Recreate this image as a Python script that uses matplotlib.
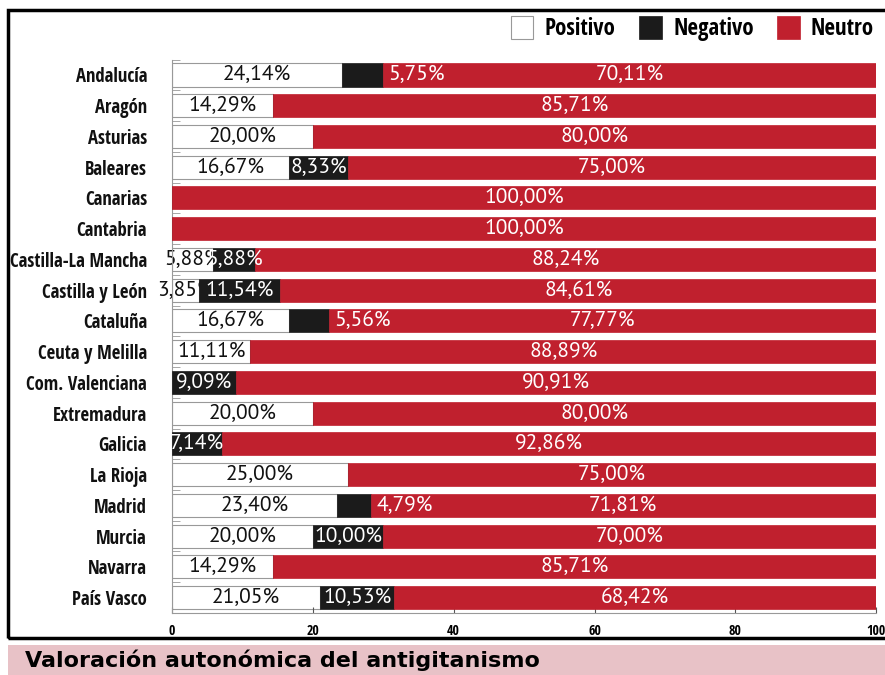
import matplotlib.pyplot as plt
import matplotlib.patches as patches
from matplotlib import font_manager

regiones = ['Andalucía', 'Aragón', 'Asturias', 'Baleares', 'Canarias', 'Cantabria',
            'Castilla-La Mancha', 'Castilla y León', 'Cataluña', 'Ceuta y Melilla',
            'Com. Valenciana', 'Extremadura', 'Galicia', 'La Rioja', 'Madrid',
            'Murcia', 'Navarra', 'País Vasco']
positivo = [24.14, 14.29, 20.00, 16.67, 0, 0, 5.88, 3.85, 16.67, 11.11,
            0, 20.00, 0, 25.00, 23.40, 20.00, 14.29, 21.05]
negativo = [5.75, 0, 0, 8.33, 0, 0, 5.88, 11.54, 5.56, 0,
            9.09, 0, 7.14, 0, 4.79, 10.00, 0, 10.53]
neutro = [70.11, 85.71, 80.00, 75.00, 100.00, 100.00, 88.24, 84.61, 77.77, 88.89,
          90.91, 80.00, 92.86, 75.00, 71.81, 70.00, 85.71, 68.42]
ticks = [0, 20, 40, 60, 80, 100]

installed = {f.name for f in font_manager.fontManager.ttflist}

def pick(*cands):
    for c in cands:
        if c in installed:
            return c
    return 'DejaVu Sans'

narrow = pick('Open Sans Condensed', 'Roboto Condensed', 'Fira Sans Extra Condensed', 'Liberation Sans Narrow')
plain = pick('PT Sans', 'Open Sans', 'Lato')
ysize = 13.5 if narrow != 'DejaVu Sans' else 10.5
fs = 15.5 if plain == 'PT Sans' else 13

rojo = '#c0202e'
negro = '#1b1b1b'

def fmt(v):
    return f'{v:.2f}%'.replace('.', ',')

fig = plt.figure(figsize=(8.85, 6.75), dpi=100)
ax = fig.add_axes([0.1944, 0.0919, 0.7956, 0.8198])

y = list(range(len(regiones)))
h = 0.75
neg_left = positivo
neu_left = [p + n for p, n in zip(positivo, negativo)]

ax.barh(y, positivo, height=h, color='white', edgecolor='#999999', linewidth=0.8, zorder=1, label='Positivo')
ax.barh(y, negativo, left=neg_left, height=h, color=negro, edgecolor=negro, linewidth=0.5, zorder=3, label='Negativo')
ax.barh(y, neutro, left=neu_left, height=h, color=rojo, edgecolor=rojo, linewidth=0.5, zorder=3, label='Neutro')

for i in y:
    if positivo[i] > 0:
        ax.text(positivo[i] / 2, i, fmt(positivo[i]), ha='center', va='center',
                fontsize=fs, family=plain, color='#111111', zorder=2)
    if negativo[i] > 0:
        if negativo[i] < 5.85:
            ax.text(neu_left[i] + 0.8, i, fmt(negativo[i]), ha='left', va='center',
                    fontsize=fs, family=plain, color='white', zorder=4)
        else:
            ax.text(neg_left[i] + negativo[i] / 2, i, fmt(negativo[i]), ha='center', va='center',
                    fontsize=fs, family=plain, color='white', zorder=4)
    if neutro[i] > 0:
        ax.text(neu_left[i] + neutro[i] / 2, i, fmt(neutro[i]), ha='center', va='center',
                fontsize=fs, family=plain, color='white', zorder=4)

ax.set_xlim(0, 100)
ax.set_ylim(17.42, -0.5)
ax.set_yticks(y)
ax.set_yticklabels(regiones, fontsize=ysize, fontweight='bold', family=narrow, color='#111111')
ax.tick_params(axis='y', length=0, pad=18)
ax.set_yticks([i + 0.5 for i in range(-1, len(regiones))], minor=True)
ax.tick_params(axis='y', which='minor', direction='in', length=6, color='#999999')
ax.set_xticks(ticks)
ax.set_xticklabels([str(t) for t in ticks], fontsize=10, fontweight='bold', family=narrow)
ax.tick_params(axis='x', direction='in', length=4, color='#555555', pad=8)
for s in ['top', 'right']:
    ax.spines[s].set_visible(False)
ax.spines['left'].set_color('#999999')
ax.spines['bottom'].set_color('#999999')

handles, labels = ax.get_legend_handles_labels()
fig.legend(handles, labels, loc='upper right', bbox_to_anchor=(1.011, 1.007), ncol=3,
           frameon=False, prop={'family': narrow, 'size': 16.5}, handlelength=1.0,
           handleheight=1.2, columnspacing=1.0, handletextpad=0.5)

# marco y barra de titulo
fig.patches.append(patches.Rectangle((8 / 885, 1 - 638 / 675), 1.0, (638 - 10) / 675,
                                     transform=fig.transFigure, fill=False,
                                     edgecolor='black', linewidth=2.5))
fig.patches.append(patches.Rectangle((8 / 885, 0), 1.0, 30 / 675,
                                     transform=fig.transFigure, facecolor='#e8c2c7',
                                     edgecolor='none'))
fig.text(25 / 885, 15 / 675, 'Valoración autonómica del antigitanismo', fontsize=16,
         fontweight='bold', va='center', ha='left')

fig.savefig('out.png', dpi=100)
